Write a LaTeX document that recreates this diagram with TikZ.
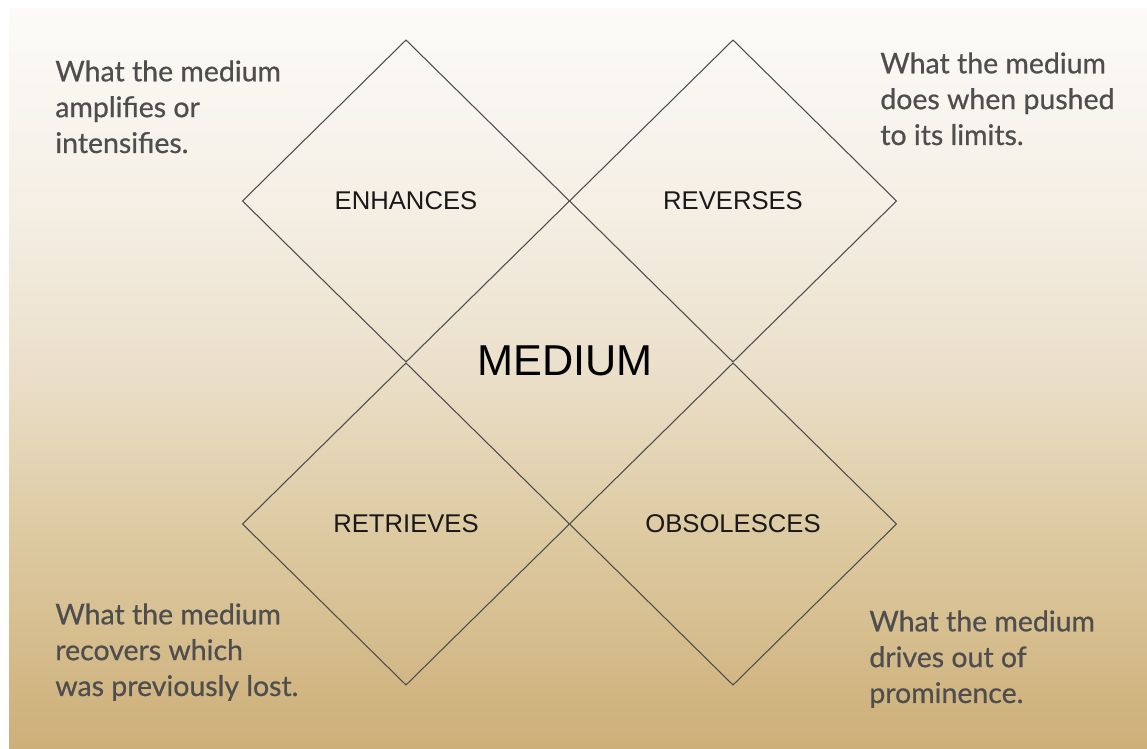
\documentclass[tikz,border=0pt]{standalone}
\usepackage{fontspec}
\setmainfont{Liberation Sans}
\newfontfamily\notefont{Lato}[FakeBold=0.6]
\usetikzlibrary{shapes.geometric}
\usepackage{xcolor}

\definecolor{paper}{RGB}{252,251,249}
\definecolor{tanhigh}{RGB}{245,239,229}
\definecolor{tanmid}{RGB}{235,224,203}
\definecolor{tanlow}{RGB}{222,203,163}
\definecolor{tandeep}{RGB}{205,175,120}
\definecolor{notegray}{RGB}{78,78,78}

% warm paper fade, bottom (0bp) to top (100bp)
\pgfdeclareverticalshading{parchment}{100bp}{color(0bp)=(tandeep); color(25bp)=(tandeep);
  color(40bp)=(tanlow); color(51bp)=(tanmid); color(62bp)=(tanhigh); color(75bp)=(paper); color(100bp)=(paper)}

\begin{document}
\begin{tikzpicture}[x=0.02cm,y=-0.02cm,
  quad/.style={diamond,draw=black!70,line width=0.6pt,inner sep=0pt,outer sep=0pt,
    minimum width=6.54cm,minimum height=6.44cm,font=\fontsize{14.6}{17}\selectfont,text=black!90},
  note/.style={anchor=base west,align=left,text=notegray,inner sep=0pt,
    font=\notefont\fontsize{16.2}{20.4}\selectfont}]
\useasboundingbox (0,0) rectangle (1147,749);
\shade[shading=parchment] (9,9) rectangle (1147,749);

\node[quad] (enh) at (406,201) {ENHANCES};
\node[quad] (rev) at (733,201) {REVERSES};
\node[quad] (ret) at (406,524) {RETRIEVES};
\node[quad] (obs) at (733,524) {OBSOLESCES};
\node[font=\fontsize{24.6}{28}\selectfont] (medium) at (565,361) {MEDIUM};

% anchored on the baseline of each note's last line
\node[note] (enhnote) at (55,153) {What the medium\\amplifies or\\intensifies.};
\node[note] (revnote) at (880,145) {What the medium\\does when pushed\\to its limits.};
\node[note] (retnote) at (55,696) {What the medium\\recovers which\\was previously lost.};
\node[note] (obsnote) at (869,703) {What the medium\\drives out of\\prominence.};
\end{tikzpicture}
\end{document}
